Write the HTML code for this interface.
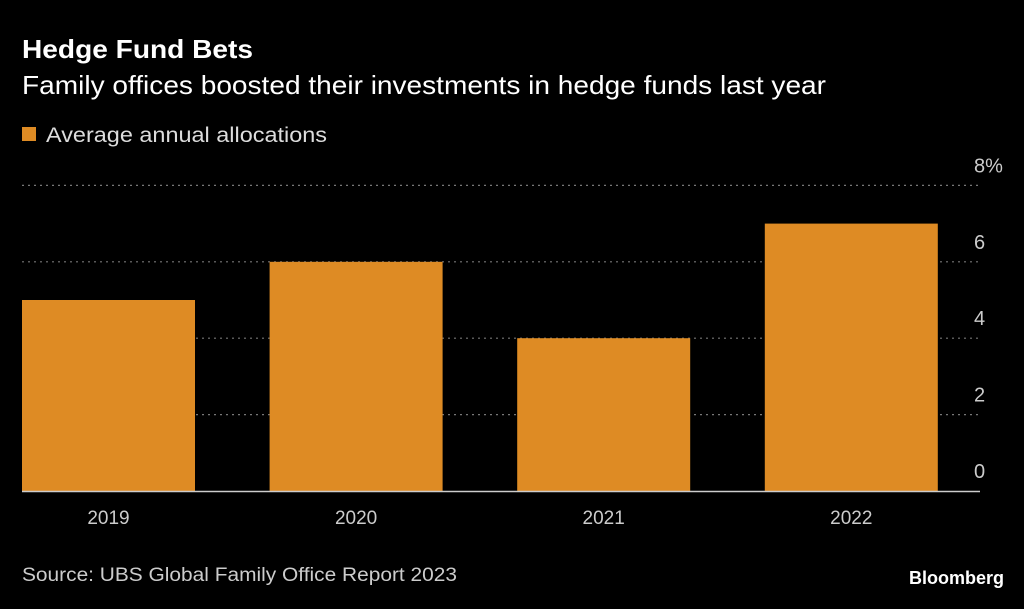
<!DOCTYPE html>
<html><head><meta charset="utf-8"><style>
body{margin:0;background:#000;width:1024px;height:604px;overflow:hidden;font-family:"Liberation Sans",sans-serif;}
</style></head><body>
<svg width="1024" height="604" id="c">
<text x="22" y="58" fill="#fff" font-size="26" font-weight="bold" textLength="231" lengthAdjust="spacingAndGlyphs">Hedge Fund Bets</text>
<text x="22" y="94" fill="#fff" font-size="26" textLength="804" lengthAdjust="spacingAndGlyphs">Family offices boosted their investments in hedge funds last year</text>
<rect x="22" y="127" width="14" height="14" fill="#DE8B24"/>
<text x="46" y="142" fill="#ddd" font-size="21" textLength="281" lengthAdjust="spacingAndGlyphs">Average annual allocations</text>
<text x="22" y="581" fill="#ccc" font-size="19" textLength="435" lengthAdjust="spacingAndGlyphs">Source: UBS Global Family Office Report 2023</text>
<text x="1004" y="584" fill="#fff" font-size="18" font-weight="bold" text-anchor="end">Bloomberg</text>
<g id="plot"></g>
</svg>
<script>
const categories=["2019","2020","2021","2022"];
const values=[5,6,4,7];
const ticks=[0,2,4,6,8];
const tickLabels=["0","2","4","6","8%"];
const NS="http://www.w3.org/2000/svg";
const g=document.getElementById('plot');
const y=v=>491-v*38.2;
const x=i=>22+i*247.6;
const bw=173;
function mk(t,a){const e=document.createElementNS(NS,t);for(const k in a)e.setAttribute(k,a[k]);g.appendChild(e);return e;}
ticks.forEach((t,i)=>{
  if(t>0){const l=mk('line',{x1:22,x2:979,y1:y(t),y2:y(t),stroke:'#777','stroke-width':1.2,'stroke-dasharray':'2,4'});
  
  }
  const tx=mk('text',{x:974,y:y(t)-13,fill:'#ccc','font-size':20});
  tx.textContent=tickLabels[i];
  
  
});
values.forEach((v,i)=>{
  const r=mk('rect',{x:x(i),y:y(v),width:bw,height:y(0)-y(v),fill:'#DE8B24'});
  
  
  const t=mk('text',{x:x(i)+bw/2,y:524,fill:'#ccc','font-size':19,'text-anchor':'middle'});
  t.textContent=categories[i];
  
  
});
const b=mk('line',{x1:22,x2:980,y1:491.5,y2:491.5,stroke:'#ccc','stroke-width':1.5});


</script>
</body></html>
